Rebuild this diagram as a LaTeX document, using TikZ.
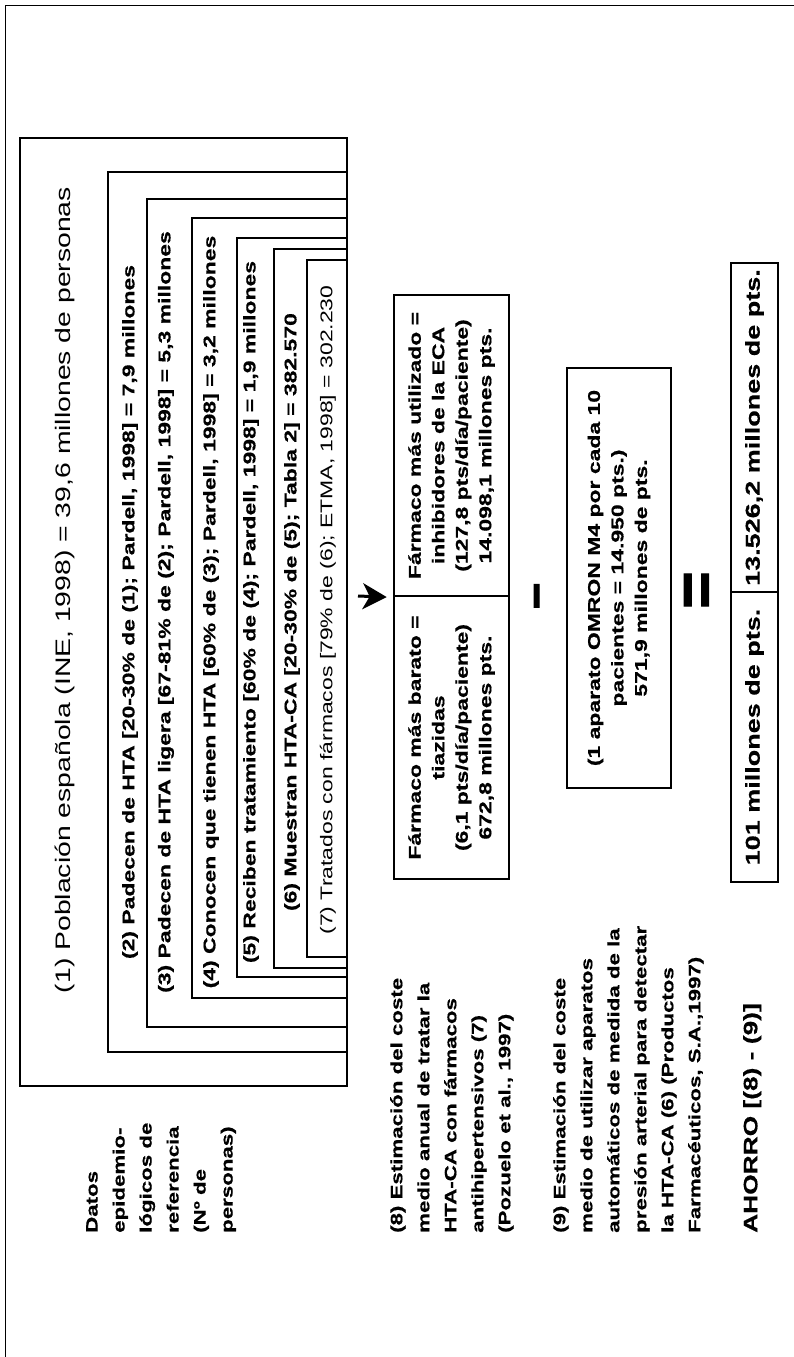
\documentclass[tikz,border=0pt]{standalone}
\usepackage{fontspec}
\setmainfont{Liberation Sans}[FakeStretch=1.35, BoldFeatures={FakeBold=0.6}]
\newfontfamily\signos{Liberation Sans}[BoldFeatures={FakeBold=2}]
\usetikzlibrary{arrows.meta}

\tikzset{
  caja/.style={draw, line width=2.6pt},
  dato/.style={rotate=90, inner sep=0pt, font=\fontsize{17}{23}\selectfont\bfseries},
  datofino/.style={dato, font=\fontsize{17}{23}\selectfont},
  farm/.style={draw, line width=2.6pt, rotate=90, align=center, inner sep=0pt,
    font=\fontsize{17}{23.5}\selectfont\bfseries},
  rotulo/.style={rotate=90, anchor=north west, align=left, inner sep=0pt,
    font=\fontsize{16.5}{27}\selectfont\bfseries},
  resul/.style={draw, line width=2.2pt, rotate=90, inner sep=0pt,
    font=\fontsize{20}{24}\selectfont\bfseries},
  signo/.style={rotate=90, inner sep=0pt},
  flecha/.style={-{Stealth[length=24pt, width=26pt, inset=7pt]}, line width=3pt, shorten >=6pt},
}

\begin{document}
\begin{tikzpicture}[x=1pt, y=-1pt]
  \useasboundingbox (0,0) rectangle (794,1357);
  % marco de la pagina
  \draw[line width=0.8pt] (5,1357) |- (794,5);

  % cajas anidadas (1)-(7)
  \foreach \n/\xl/\yt/\yb in {1/20/138/1086, 2/108/172/1052, 3/147/199/1027,
      4/192/218/998, 5/237/238/977, 6/274/249/968, 7/307/260/957}
    {\draw[caja] (\xl,\yt) rectangle (347,\yb);}

  \node[datofino, font=\fontsize{21}{25}\selectfont] (t1) at (65,590)
    {(1) Población española (INE, 1998) = 39,6 millones de personas};
  \node[dato] (t2) at (130,612) {(2) Padecen de HTA [20-30\% de (1); Pardell, 1998] = 7,9 millones};
  \node[dato] (t3) at (166,612) {(3) Padecen de HTA ligera [67-81\% de (2); Pardell, 1998] = 5,3 millones};
  \node[dato] (t4) at (211,612) {(4) Conocen que tienen HTA [60\% de (3); Pardell, 1998] = 3,2 millones};
  \node[dato] (t5) at (251,612) {(5) Reciben tratamiento [60\% de (4); Pardell, 1998] = 1,9 millones};
  \node[dato] (t6) at (292,612) {(6) Muestran HTA-CA [20-30\% de (5); Tabla 2] = 382.570};
  \node[datofino] (t7) at (328,610) {(7) Tratados con fármacos [79\% de (6); ETMA, 1998] = 302.230};

  % costes de tratamiento
  \node[farm, minimum width=301pt, minimum height=115pt] (farmsup) at (451.5,445.5)
    {Fármaco más utilizado =\\inhibidores de la ECA\\(127,8 pts/día/paciente)\\14.098,1 millones pts.};
  \node[farm, minimum width=283pt, minimum height=115pt] (farminf) at (451.5,737.5)
    {Fármaco más barato =\\tiazidas\\(6,1 pts/día/paciente)\\672,8 millones pts.};

  \coordinate (flechaini) at (358,596);
  \draw[flecha] (flechaini) -- (farmsup.north west);

  \node[signo, font=\signos\bfseries\fontsize{46}{46}\selectfont] (menos) at (543,596) {−};

  \node[farm, minimum width=420pt, minimum height=104pt] (omron) at (619,578)
    {(1 aparato OMRON M4 por cada 10\\pacientes = 14.950 pts.)\\571,9 millones de pts.};

  \node[signo, font=\signos\bfseries\fontsize{64}{64}\selectfont] (igual) at (701,590) {=};

  \node[resul, minimum width=329pt, minimum height=47pt] (ahorrosup) at (754.5,427.5) {13.526,2 millones de pts.};
  \node[resul, minimum width=290pt, minimum height=47pt] (ahorroinf) at (754.5,737) {101 millones de pts.};

  % rotulos de la izquierda
  \node[rotulo] (datos) at (86,1233) {Datos\\epidemio-\\lógicos de\\referencia\\(Nº de\\personas)};
  \node[rotulo] (coste8) at (390,1233) {(8) Estimación del coste\\medio anual de tratar la\\HTA-CA con  fármacos\\antihipertensivos (7)\\(Pozuelo et al., 1997)};
  \node[rotulo] (coste9) at (553,1233) {(9) Estimación del coste\\medio de utilizar aparatos\\automáticos de medida de la\\presión arterial para detectar\\la HTA-CA (6) (Productos\\Farmacéuticos, S.A.,1997)};
  \node[rotulo, font=\fontsize{19.5}{24}\selectfont\bfseries] (ahorro) at (743,1233) {AHORRO [(8) - (9)]};
\end{tikzpicture}
\end{document}
